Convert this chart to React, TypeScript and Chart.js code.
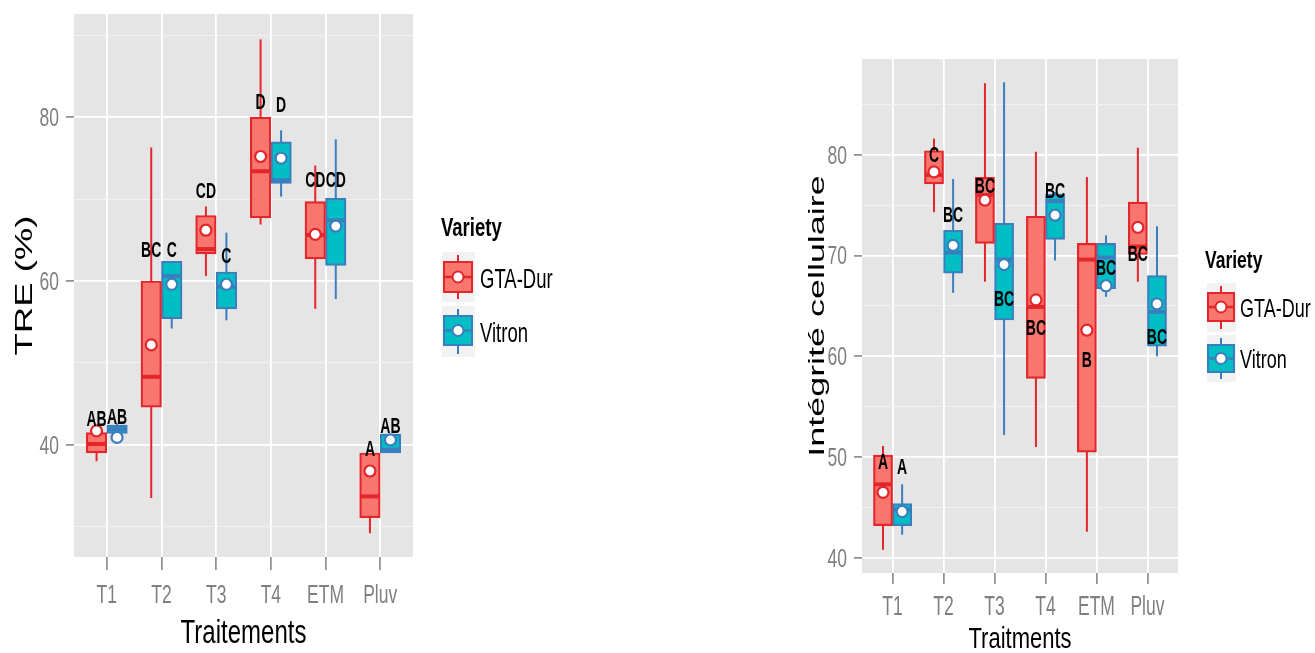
import React, { useEffect, useRef } from 'react';
import { Chart, registerables } from 'chart.js';
Chart.register(...registerables);

// ---------- data ----------
const categories = ['T1', 'T2', 'T3', 'T4', 'ETM', 'Pluv'];
const varieties = ['GTA-Dur', 'Vitron'];

// Panel 1 : TRE (%)
const treGtaLow = [38.0, 33.5, 60.6, 66.9, 56.6, 29.2];
const treGtaQ1 = [39.0, 44.6, 63.3, 67.7, 62.7, 31.1];
const treGtaMed = [40.1, 48.3, 63.9, 73.4, 65.6, 33.7];
const treGtaQ3 = [41.5, 60.0, 68.0, 80.0, 69.7, 39.0];
const treGtaHigh = [41.5, 76.3, 69.1, 89.5, 74.1, 39.0];
const treGtaMean = [41.7, 52.2, 66.2, 75.2, 65.7, 36.8];
const treGtaLetters = ['AB', 'BC', 'CD', 'D', 'CD', 'A'];
const treGtaLetterY = [43.3, 63.9, 71.1, 81.9, 72.4, 39.6];

const treVitLow = [41.2, 54.2, 55.2, 70.3, 57.8, 39.0];
const treVitQ1 = [41.4, 55.4, 56.6, 71.9, 61.9, 39.0];
const treVitMed = [41.9, 60.6, 59.3, 72.3, 67.4, 39.4];
const treVitQ3 = [42.4, 62.4, 61.1, 77.0, 70.1, 41.3];
const treVitHigh = [42.6, 62.4, 65.9, 78.4, 77.3, 41.3];
const treVitMean = [40.9, 59.6, 59.6, 75.0, 66.7, 40.6];
const treVitLetters = ['AB', 'C', 'C', 'D', 'CD', 'AB'];
const treVitLetterY = [43.45, 63.9, 63.2, 81.6, 72.4, 42.4];

const treMajorTicks = [40, 60, 80];
const treMinorTicks = [30, 50, 70, 90];

// Panel 2 : Intégrité cellulaire
const icGtaLow = [40.8, 74.3, 67.4, 51.0, 42.6, 67.4];
const icGtaQ1 = [43.2, 77.1, 71.2, 57.8, 50.5, 70.1];
const icGtaMed = [47.3, 78.0, 76.0, 64.9, 69.6, 70.9];
const icGtaQ3 = [50.2, 80.4, 77.75, 73.9, 71.2, 75.3];
const icGtaHigh = [51.1, 81.6, 87.1, 80.3, 77.8, 80.7];
const icGtaMean = [46.5, 78.3, 75.5, 65.6, 62.6, 72.8];
const icGtaLetters = ['A', 'C', 'BC', 'BC', 'B', 'BC'];
const icGtaLetterY = [49.55, 80.1, 77.0, 62.85, 59.7, 70.2];

const icVitLow = [42.3, 66.3, 52.2, 69.5, 65.9, 60.0];
const icVitQ1 = [43.2, 68.25, 63.6, 71.6, 66.7, 61.0];
const icVitMed = [44.8, 70.3, 69.6, 75.4, 69.8, 64.4];
const icVitQ3 = [45.4, 72.5, 73.2, 76.1, 71.2, 68.0];
const icVitHigh = [47.3, 77.6, 87.2, 76.3, 72.0, 72.9];
const icVitMean = [44.6, 71.0, 69.1, 74.0, 67.0, 65.2];
const icVitLetters = ['A', 'BC', 'BC', 'BC', 'BC', 'BC'];
const icVitLetterY = [49.05, 74.1, 65.8, 76.5, 68.85, 62.0];

const icMajorTicks = [40, 50, 60, 70, 80];
const icMinorTicks = [45, 55, 65, 75, 85];

// ---------- styles ----------
const RED_FILL = '#F8766D';
const RED_LINE = '#E3262B';
const BLUE_FILL = '#00BFC4';
const BLUE_LINE = '#3A7EBE';
const PANEL_BG = '#E5E5E5';
const MINOR_GRID = '#F2F2F2';
const TICK_GREY = '#7F7F7F';
const FONT = '"Liberation Sans", Arial, Helvetica, sans-serif';
const DODGE = 0.1875;

function drawText(ctx: CanvasRenderingContext2D, s: string, x: number, y: number, size: number, o: any = {}) {
  ctx.save();
  ctx.translate(x, y);
  const sy = o.sy ?? 1;
  if (o.rot) {
    ctx.rotate(-Math.PI / 2);
    ctx.scale(sy, 1);
  } else {
    ctx.scale(1, sy);
  }
  ctx.font = `${o.bold ? 'bold ' : ''}${size}px ${FONT}`;
  ctx.textAlign = o.align || 'left';
  ctx.textBaseline = 'alphabetic';
  ctx.fillStyle = o.color || '#000';
  ctx.fillText(s, 0, 0);
  ctx.restore();
}

function drawKey(ctx: CanvasRenderingContext2D, k: any, fill: string, line: string) {
  ctx.save();
  ctx.fillStyle = MINOR_GRID;
  ctx.fillRect(k.x, k.y, k.w, k.h);
  const cx = k.bx + k.bw / 2;
  const my = k.by + k.bh / 2;
  ctx.strokeStyle = line;
  ctx.lineWidth = 2;
  ctx.beginPath();
  ctx.moveTo(cx, k.wy1);
  ctx.lineTo(cx, k.wy2);
  ctx.stroke();
  ctx.fillStyle = fill;
  ctx.fillRect(k.bx, k.by, k.bw, k.bh);
  ctx.strokeRect(k.bx, k.by, k.bw, k.bh);
  ctx.lineWidth = 2.5;
  ctx.beginPath();
  ctx.moveTo(k.bx, my);
  ctx.lineTo(k.bx + k.bw, my);
  ctx.stroke();
  ctx.fillStyle = '#fff';
  ctx.lineWidth = 2;
  ctx.beginPath();
  ctx.arc(cx, my, 5.5, 0, Math.PI * 2);
  ctx.fill();
  ctx.stroke();
  ctx.restore();
}

function makePlugin(p: any) {
  return {
    id: 'ggbox',
    beforeDraw(chart: any) {
      const { ctx, chartArea: a } = chart;
      ctx.save();
      ctx.fillStyle = PANEL_BG;
      ctx.fillRect(a.left, a.top, a.right - a.left, a.bottom - a.top);
      ctx.restore();
    },
    beforeDatasetsDraw(chart: any) {
      const { ctx } = chart;
      const ys = chart.scales.y;
      chart.data.datasets.forEach((ds: any, di: number) => {
        if (!ds.lo) return;
        const meta = chart.getDatasetMeta(di);
        ctx.save();
        ctx.strokeStyle = ds.borderColor;
        ctx.lineWidth = 2;
        meta.data.forEach((el: any, i: number) => {
          const { x } = el.getProps(['x'], true);
          ctx.beginPath();
          ctx.moveTo(x, ys.getPixelForValue(ds.lo[i]));
          ctx.lineTo(x, ys.getPixelForValue(ds.hi[i]));
          ctx.stroke();
        });
        ctx.restore();
      });
    },
    afterDatasetDraw(chart: any, args: any) {
      const ds = chart.data.datasets[args.index];
      if (!ds.med) return;
      const { ctx } = chart;
      const ys = chart.scales.y;
      ctx.save();
      ctx.strokeStyle = ds.borderColor;
      ctx.lineWidth = 4;
      args.meta.data.forEach((el: any, i: number) => {
        const { x, width } = el.getProps(['x', 'width'], true);
        const y = ys.getPixelForValue(ds.med[i]);
        ctx.beginPath();
        ctx.moveTo(x - width / 2 + 1, y);
        ctx.lineTo(x + width / 2 - 1, y);
        ctx.stroke();
      });
      ctx.restore();
    },
    afterDraw(chart: any) {
      const { ctx, chartArea: a } = chart;
      const xs = chart.scales.x;
      const ys = chart.scales.y;
      // tick labels
      categories.forEach((c, i) => {
        drawText(ctx, c, xs.getPixelForValue(i + 1), p.xTickBase, p.tickSize, { color: TICK_GREY, align: 'center', sy: p.xTickSy });
      });
      const capY = p.tickSize * 0.716 * p.yTickSy;
      p.major.forEach((v: number) => {
        drawText(ctx, String(v), a.left - 15, ys.getPixelForValue(v) + capY / 2, p.tickSize, { color: TICK_GREY, align: 'right', sy: p.yTickSy });
      });
      // axis titles
      drawText(ctx, p.xTitle, (a.left + a.right) / 2, p.xTitleBase, p.xTitleSize, { align: 'center', sy: p.xTitleSy });
      drawText(ctx, p.yTitle, p.yTitleX, (a.top + a.bottom) / 2, p.yTitleSize, { align: 'center', rot: true, sy: p.yTitleSy });
      // letters
      const lsz = 14, lsy = 1.55, lcap = lsz * 0.716 * lsy;
      chart.data.datasets.forEach((ds: any, di: number) => {
        if (!ds.letters) return;
        const meta = chart.getDatasetMeta(di);
        meta.data.forEach((el: any, i: number) => {
          const { x } = el.getProps(['x'], true);
          drawText(ctx, ds.letters[i], x, ys.getPixelForValue(ds.letterY[i]) + lcap / 2, lsz, { bold: true, align: 'center', sy: lsy });
        });
      });
      // legend
      const L = p.legend;
      drawText(ctx, 'Variety', L.titleX, L.titleBase, L.titleSize, { bold: true, sy: L.titleSy });
      drawKey(ctx, L.keys[0], RED_FILL, RED_LINE);
      drawKey(ctx, L.keys[1], BLUE_FILL, BLUE_LINE);
      drawText(ctx, varieties[0], L.labelX, L.labelBase[0], L.labelSize, { sy: L.labelSy });
      drawText(ctx, varieties[1], L.labelX, L.labelBase[1], L.labelSize, { sy: L.labelSy });
    },
  };
}

function boxDataset(q1: number[], q3: number[], med: number[], lo: number[], hi: number[], letters: string[], letterY: number[], off: number, fill: string, line: string) {
  return {
    type: 'bar',
    data: categories.map((_, i) => ({ x: i + 1 + off, y: [q1[i], q3[i]] })),
    backgroundColor: fill,
    borderColor: line,
    borderWidth: 2.2,
    borderSkipped: false,
    grouped: false,
    barPercentage: 1,
    categoryPercentage: 1,
    order: 2,
    med, lo, hi, letters, letterY,
  };
}

function meanDataset(mean: number[], off: number, line: string) {
  return {
    type: 'scatter',
    data: categories.map((_, i) => ({ x: i + 1 + off, y: mean[i] })),
    pointRadius: 5.5,
    pointHoverRadius: 5.5,
    pointBackgroundColor: '#FFFFFF',
    pointBorderColor: line,
    pointBorderWidth: 2.2,
    showLine: false,
    order: 1,
  };
}

function buildConfig(p: any): any {
  const isMajor = (v: number) => p.major.includes(v);
  return {
    type: 'bar',
    data: {
      datasets: [
        boxDataset(p.gta.q1, p.gta.q3, p.gta.med, p.gta.lo, p.gta.hi, p.gta.letters, p.gta.letterY, -DODGE, RED_FILL, RED_LINE),
        boxDataset(p.vit.q1, p.vit.q3, p.vit.med, p.vit.lo, p.vit.hi, p.vit.letters, p.vit.letterY, DODGE, BLUE_FILL, BLUE_LINE),
        meanDataset(p.gta.mean, -DODGE, RED_LINE),
        meanDataset(p.vit.mean, DODGE, BLUE_LINE),
      ],
    },
    options: {
      responsive: false,
      animation: false,
      devicePixelRatio: 1,
      layout: { padding: { left: 0, top: p.padTop, right: p.padRight, bottom: 0 } },
      plugins: { legend: { display: false }, tooltip: { enabled: false } },
      scales: {
        x: {
          type: 'linear',
          min: 0.4,
          max: 6.6,
          offset: false,
          afterBuildTicks: (s: any) => { s.ticks = categories.map((_, i) => ({ value: i + 1 })); },
          ticks: { display: false },
          grid: { offset: false, color: '#FFFFFF', lineWidth: 1.8, drawTicks: true, tickLength: p.xTickLen, tickColor: TICK_GREY, tickWidth: 1.5 },
          border: { display: false },
          afterFit: (s: any) => { s.height = p.xAxisH; },
        },
        y: {
          type: 'linear',
          min: p.yMin,
          max: p.yMax,
          afterBuildTicks: (s: any) => { s.ticks = [...p.major, ...p.minor].sort((a: number, b: number) => a - b).map((v: number) => ({ value: v })); },
          ticks: { display: false },
          grid: {
            color: (c: any) => (isMajor(c.tick.value) ? '#FFFFFF' : MINOR_GRID),
            lineWidth: (c: any) => (isMajor(c.tick.value) ? 1.8 : 1),
            drawTicks: true,
            tickLength: 8,
            tickColor: (c: any) => (isMajor(c.tick.value) ? TICK_GREY : 'rgba(0,0,0,0)'),
            tickWidth: 1.5,
          },
          border: { display: false },
          afterFit: (s: any) => { s.width = p.yAxisW; },
        },
      },
    },
    plugins: [makePlugin(p)],
  };
}

const leftSpec = {
  canvasLeft: 0, width: 600, height: 653,
  yAxisW: 74, padTop: 14, padRight: 187, xAxisH: 96, xTickLen: 13,
  yMin: 26.3, yMax: 92.6, major: treMajorTicks, minor: treMinorTicks,
  tickSize: 17.5, xTickSy: 1.45, yTickSy: 1.42, xTickBase: 603,
  xTitle: 'Traitements', xTitleBase: 643, xTitleSize: 24, xTitleSy: 1.38,
  yTitle: 'TRE (%)', yTitleX: 32, yTitleSize: 24, yTitleSy: 1.52,
  gta: { lo: treGtaLow, q1: treGtaQ1, med: treGtaMed, q3: treGtaQ3, hi: treGtaHigh, mean: treGtaMean, letters: treGtaLetters, letterY: treGtaLetterY },
  vit: { lo: treVitLow, q1: treVitQ1, med: treVitMed, q3: treVitQ3, hi: treVitHigh, mean: treVitMean, letters: treVitLetters, letterY: treVitLetterY },
  legend: {
    titleX: 441, titleBase: 236, titleSize: 18.5, titleSy: 1.38,
    labelX: 480, labelBase: [288, 342], labelSize: 18.5, labelSy: 1.48,
    keys: [
      { x: 442, y: 252, w: 33, h: 50, bx: 444, by: 262, bw: 28, bh: 30, wy1: 255, wy2: 299 },
      { x: 442, y: 306, w: 33, h: 51, bx: 444, by: 316, bw: 28, bh: 29, wy1: 309, wy2: 354 },
    ],
  },
};

const RX = 640;
const rightSpec = {
  canvasLeft: RX, width: 1315 - RX, height: 653,
  yAxisW: 222, padTop: 59, padRight: 137, xAxisH: 80, xTickLen: 11,
  yMin: 38.5, yMax: 89.5, major: icMajorTicks, minor: icMinorTicks,
  tickSize: 17.5, xTickSy: 1.6, yTickSy: 1.42, xTickBase: 615,
  xTitle: 'Traitments', xTitleBase: 648, xTitleSize: 22, xTitleSy: 1.35,
  yTitle: 'Intégrité cellulaire', yTitleX: 824 - RX, yTitleSize: 21.5, yTitleSy: 1.67,
  gta: { lo: icGtaLow, q1: icGtaQ1, med: icGtaMed, q3: icGtaQ3, hi: icGtaHigh, mean: icGtaMean, letters: icGtaLetters, letterY: icGtaLetterY },
  vit: { lo: icVitLow, q1: icVitQ1, med: icVitMed, q3: icVitQ3, hi: icVitHigh, mean: icVitMean, letters: icVitLetters, letterY: icVitLetterY },
  legend: {
    titleX: 1205 - RX, titleBase: 268, titleSize: 17.5, titleSy: 1.38,
    labelX: 1240 - RX, labelBase: [317, 368], labelSize: 18, labelSy: 1.48,
    keys: [
      { x: 1207 - RX, y: 283, w: 29, h: 49, bx: 1208 - RX, by: 293, bw: 26, bh: 28, wy1: 286, wy2: 329 },
      { x: 1207 - RX, y: 335, w: 29, h: 47, bx: 1208 - RX, by: 345, bw: 26, bh: 27, wy1: 338, wy2: 379 },
    ],
  },
};

function BoxChart({ spec }: { spec: any }) {
  const ref = useRef<HTMLCanvasElement>(null);
  useEffect(() => {
    if (!ref.current) return;
    const chart = new Chart(ref.current, buildConfig(spec));
    return () => chart.destroy();
  }, [spec]);
  return (
    <canvas
      ref={ref}
      width={spec.width}
      height={spec.height}
      style={{ position: 'absolute', left: spec.canvasLeft, top: 0, width: spec.width, height: spec.height }}
    />
  );
}

export default function App() {
  return (
    <div style={{ position: 'absolute', left: 0, top: 0, width: 1315, height: 653, background: '#FFFFFF', overflow: 'hidden' }}>
      <BoxChart spec={leftSpec} />
      <BoxChart spec={rightSpec} />
    </div>
  );
}
